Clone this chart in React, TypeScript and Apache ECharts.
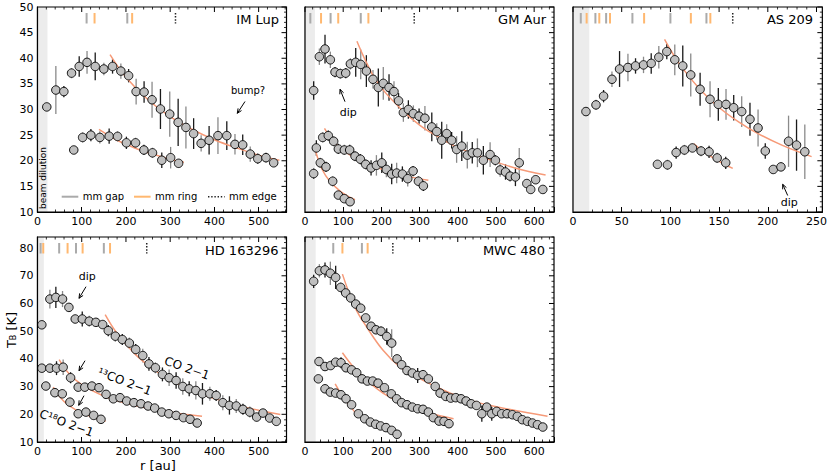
import React, { useEffect, useRef } from "react";
import * as echarts from "echarts";

const FONT = "'DejaVu Sans', sans-serif";

// ---------------- data: [r (au), T_B (K), error] ----------------
const imLupCO = [[21,30.5,0.5],[41.5,33.8,4.7],[59.6,33.5,1.1],[77,37.1,1.0],[94.3,38.4,2.0],[112,39.2,2.2],[130.5,38.4,2.7],[150,37.9,1.2],[169.7,38.4,1.4],[188.5,37.5,1.5],[206,36.6,1.3],[223,33.5,2.5],[241,33.4,2.1],[259,31.9,3.5],[278,30.1,3.9],[299,29.1,4.4],[318,27.5,4.6],[335.6,26.5,4.1],[353,25.3,3.0],[370,23.4,1.6],[388,24.0,2.8],[408,24.9,3.6],[428,24.9,2.8],[446.5,23.2,2.0],[464,23.1,2.0],[481,21.3,1.5],[498,20.4,1.0],[516.6,20.6,1.0],[534,19.6,0.5]];
const imLup13CO = [[82,22.1,0.5],[102,24.55,1.0],[120.7,25.0,1.2],[141,24.55,1.2],[162,24.8,1.5],[181,24.75,1.0],[201,23.5,1.2],[221.7,23.5,1.0],[240.6,22.1,1.0],[260,21.55,1.0],[281,20.1,1.5],[301,20.6,2.1],[319,19.5,0.8]];
const imLupCOFit = [[164,40.7],[200,36.3],[250,31.9],[300,28.6],[350,26.1],[400,24.1],[450,22.5],[500,21.1],[547,20.1]];
const imLup13COFit = [[139,26.1],[180,24.0],[220,22.5],[260,21.3],[300,20.3],[331,19.7]];
const imLupGaps = [111, 203];
const imLupRings = [129, 214];
const imLupEdges = [312];

const gmAurCO = [[22.7,33.7,1.8],[37.6,40.3,1.6],[52.4,41.8,2.8],[66.4,39.7,1.6],[78.6,37.3,1.0],[92.6,37.0,1.0],[106.6,37.1,1.0],[118.8,38.9,1.1],[132.8,39.2,2.8],[145.9,38.8,2.9],[160.7,37.5,3.1],[178,35.9,1.8],[192,34.3,3.7],[205,35.1,3.2],[220,34.3,2.6],[233,33.5,2.0],[245,31.7,1.5],[257.6,29.4,1.8],[270.7,30.0,1.8],[283.8,29.2,1.6],[298.7,28.7,1.5],[314,28.3,2.4],[332,26.6,2.8],[345,25.7,1.6],[358,24.0,3.6],[371,25.3,1.8],[384,24.0,1.6],[397,22.2,2.6],[410.5,22.85,2.9],[425,21.1,2.6],[438,21.55,2.1],[451.5,21.55,2.8],[467,20.1,2.8],[484.7,21.2,2.4],[498.6,20.1,1.0],[511,18.2,1.3],[525,17.8,1.5],[537,17.0,1.1],[551,16.85,1.8],[561,19.6,2.9],[580.8,15.55,0.3],[591,14.4,0.3],[604,16.3,0.3],[622.7,14.4,0.3]];
const gmAur13CO = [[29.7,22.5,1.5],[46.3,24.55,1.0],[61,24.9,1.0],[75,23.8,1.0],[87.3,22.3,1.0],[103,22.1,1.0],[117,22.1,1.0],[131,20.9,1.0],[145,20.3,1.0],[159,19.3,1.0],[173,18.6,1.5],[187,19.1,2.0],[201,19.6,2.0],[213,18.3,1.5],[227,17.4,2.0],[240,17.6,2.0],[255,17.4,1.5],[269,16.5,1.5],[283,18.0,1.0],[297,16.0,1.0],[310,15.1,1.0]];
const gmAurC18O = [[22.7,17.5,1.0],[40,19.6,1.0],[55,18.8,1.0],[72.5,16.0,1.0],[87.3,13.3,0.5],[103,12.6,0.4],[118,12.0,0.4]];
const gmAurCOFit = [[136,43.3],[160,39.3],[192,35.0],[250,30.2],[301,26.9],[350,24.6],[400,22.6],[476,20.4],[550,18.6],[630,17.2]];
const gmAur13COFit = [[51,26.3],[80,23.3],[120,21.0],[160,19.5],[200,18.4],[260,17.1],[323,16.2]];
const gmAurC18OFit = [[28,21.8],[45,18.3],[65,16.0],[90,14.2],[110,13.2],[131,12.4]];
const gmAurGaps = [14, 67, 146];
const gmAurRings = [42, 87, 166];
const gmAurEdges = [286];

const as209CO = [[13.3,29.6,0.5],[23.6,30.9,1.0],[31.4,32.6,1.2],[40,35.9,1.5],[47.8,37.9,3.5],[56.4,38.2,2.7],[64.2,38.5,1.5],[72.4,38.7,1.6],[80.3,39.0,2.0],[88.1,40.2,2.2],[96.3,41.3,1.5],[104.5,39.7,3.0],[112.7,38.5,4.0],[120.9,36.75,4.2],[130.5,33.95,3.2],[140.7,32.0,3.5],[149.2,31.0,3.2],[157.1,31.0,3.0],[165,30.35,2.5],[173.2,29.6,3.0],[181.7,28.1,3.2],[190,26.4,3.6],[197.4,21.9,1.5],[205.6,18.3,0.5],[213.5,18.8,0.8],[221.3,23.8,5.0],[229.5,23.05,5.0],[238,21.75,5.3]];
const as20913CO = [[86.7,19.3,0.5],[97,19.2,1.0],[105.9,21.6,1.2],[114.4,22.1,1.0],[122.6,22.5,0.8],[131.5,21.9,1.0],[139.7,21.75,1.2],[148,20.55,1.0],[156.8,19.6,1.2]];
const as209COFit = [[94,43.7],[110,38.7],[130,34.0],[150,30.4],[170,27.6],[190,25.3],[215,23.0],[245,20.8]];
const as20913COFit = [[124,23.3],[134,21.8],[144,20.55],[154,19.46],[164,18.5]];
const as209Gaps = [8, 23, 34, 61, 100, 137];
const as209Rings = [14, 27, 38, 73, 121, 141];
const as209Edges = [164];

const hdCO = [[9.8,52.3,0.8],[28,61.6,3.4],[41.5,62.2,3.8],[56.6,61.6,2.9],[71,58.6,1.5],[85.3,54.4,1.5],[101.2,54.4,2.7],[117,53.6,2.0],[132,53.2,1.5],[147.3,52.4,1.5],[160,50.2,2.0],[176,48.2,2.0],[191.8,47.0,2.0],[207.7,45.7,2.0],[222,43.4,2.0],[238,41.2,2.5],[252,38.2,2.5],[266.6,36.8,2.0],[282.5,34.4,2.5],[297.6,33.2,3.0],[313.4,32.2,3.0],[328.5,30.05,3.0],[343,29.2,2.7],[358,28.6,3.3],[373,27.4,3.9],[389.7,27.4,2.5],[404,26.8,2.0],[419,24.2,2.7],[434,23.2,3.3],[449.4,23.0,2.5],[464.5,21.8,2.0],[480,20.8,2.0],[495.5,19.0,1.5],[509.8,20.45,1.5],[525,18.65,1.0],[540,17.45,1.0]];
const hd13CO = [[9.8,36.65,0.8],[28,36.65,0.8],[43,36.65,2.5],[58,37.0,2.8],[74.8,33.2,2.0],[92,29.8,1.5],[107,29.8,1.5],[123,30.2,1.2],[139,29.6,1.2],[155,27.2,1.5],[171.5,25.6,1.2],[186.6,26.0,1.2],[201.7,24.8,1.0],[218,24.2,1.0],[234,23.8,1.0],[250,23.0,1.0],[265,22.25,1.0],[281,20.8,1.0],[297,20.2,1.0],[313.4,19.6,0.8],[330,18.8,0.8],[345,18.2,0.8],[361,16.85,0.8]];
const hdC18O = [[18.9,30.2,0.8],[39.3,27.8,1.0],[56,27.4,1.5],[73.3,24.4,1.0],[92,20.2,1.0],[109.5,20.8,1.0],[127,19.6,1.0],[143.5,18.2,1.0]];
const hdCOFit = [[153,56.0],[180,49.2],[220,41.8],[260,36.5],[300,32.4],[350,28.6],[400,25.7],[460,22.9],[549,19.9]];
const hd13COFit = [[49,39.7],[70,34.9],[100,30.7],[150,26.6],[200,24.0],[260,21.8],[320,20.3],[372,19.3]];
const hdC18OFit = [[35.5,29.8],[60,24.6],[90,21.3],[120,19.2],[154,17.5]];
const hdGaps = [7, 49, 87, 150];
const hdRings = [13, 68, 102, 164];
const hdEdges = [247];

const mwcCO = [[22.7,68.0,2.4],[37.6,71.8,2.4],[52.4,72.1,2.7],[66.4,70.9,4.2],[80.3,69.4,4.2],[93.4,65.8,1.8],[106.6,63.8,1.5],[119.7,62.0,1.0],[132.8,59.8,1.0],[145.9,58.3,1.0],[159,54.8,1.0],[173,51.8,1.0],[186,50.5,1.0],[199,50.0,1.8],[214,48.1,3.0],[227,45.7,5.0],[241,40.0,1.0],[253,37.9,0.8],[267,35.8,0.8],[281,34.9,1.0],[295,34.0,2.7],[309,34.3,1.0],[323,32.8,0.8],[341,30.05,1.0],[353.7,27.65,0.8],[368.6,26.45,0.8],[381.7,25.85,0.8],[394.8,26.0,0.8],[408.7,25.6,0.8],[421.8,24.8,0.8],[435,23.8,0.8],[449,23.2,0.8],[463,20.2,2.9],[476,22.6,1.0],[489,20.2,2.5],[502,21.05,0.8],[515,20.2,0.8],[529,20.2,0.8],[543,19.85,0.8],[556,19.25,0.8],[569,18.05,0.8],[582.5,17.45,0.8],[595.6,16.85,0.8],[608.7,16.25,0.8],[622.7,15.4,0.8]];
const mwc13CO = [[36.7,39.05,0.8],[52.4,37.25,0.8],[67.2,37.6,0.8],[80.3,38.8,1.0],[94.3,38.6,2.0],[107.4,36.8,0.8],[122,36.05,0.8],[135.4,35.0,0.8],[149.3,32.8,0.8],[163.3,32.0,0.8],[177.3,32.0,0.8],[191.3,31.25,0.8],[208,29.6,0.8],[226,27.4,0.8],[240,25.6,0.8],[253,24.2,0.8],[267,23.45,0.8],[281,22.6,0.8],[295,22.0,0.8],[309,21.8,0.8],[323,20.8,0.8],[336,18.8,0.8],[351,17.55,0.8],[364,17.45,0.8],[377,16.6,0.8]];
const mwcC18O = [[35,32.8,0.6],[52.4,29.2,0.6],[66.4,28.0,0.6],[80.3,27.65,0.6],[94.3,27.05,0.6],[107.4,25.6,0.6],[122,23.45,0.6],[139.7,20.2,0.6],[156.3,18.4,0.6],[171,17.2,0.6],[185,16.4,0.6],[198,15.8,0.6],[212,15.2,0.6],[227,14.2,0.6],[241,12.8,0.6]];
const mwcCOFit = [[98,70.6],[131,58.6],[162,51.4],[205,43.0],[249,37.0],[293,33.4],[336,30.4],[378,27.8],[428,25.2],[498,22.8],[635,19.3]];
const mwc13COFit = [[98,42.2],[130,36.5],[162,32.2],[214,26.8],[275,22.6],[330,20.3],[389,18.4]];
const mwcC18OFit = [[79,31.0],[100,26.2],[127,21.4],[140,19.0]];
const mwcGaps = [74, 149];
const mwcRings = [98, 164];
const mwcEdges = [230];

const panelNames = ["IM Lup", "GM Aur", "AS 209", "HD 163296", "MWC 480"];

const panels = [
  { name: panelNames[0], row: 0, col: 0, xmax: 563, xint: 100, band: 22.6, gaps: imLupGaps, rings: imLupRings, edges: imLupEdges, sets: [imLupCO, imLup13CO], fits: [imLupCOFit, imLup13COFit] },
  { name: panelNames[1], row: 0, col: 1, xmax: 652, xint: 100, band: 26, gaps: gmAurGaps, rings: gmAurRings, edges: gmAurEdges, sets: [gmAurCO, gmAur13CO, gmAurC18O], fits: [gmAurCOFit, gmAur13COFit, gmAurC18OFit] },
  { name: panelNames[2], row: 0, col: 2, xmax: 256, xint: 50, band: 16.7, gaps: as209Gaps, rings: as209Rings, edges: as209Edges, sets: [as209CO, as20913CO], fits: [as209COFit, as20913COFit] },
  { name: panelNames[3], row: 1, col: 0, xmax: 563, xint: 100, band: 14.3, gaps: hdGaps, rings: hdRings, edges: hdEdges, sets: [hdCO, hd13CO, hdC18O], fits: [hdCOFit, hd13COFit, hdC18OFit] },
  { name: panelNames[4], row: 1, col: 1, xmax: 652, xint: 100, band: 28, gaps: mwcGaps, rings: mwcRings, edges: mwcEdges, sets: [mwcCO, mwc13CO, mwcC18O], fits: [mwcCOFit, mwc13COFit, mwcC18OFit] },
];

const COLS = [37.5, 305, 573];
const WIDTHS = [249, 249, 250];
const ROWS = [7, 237];
const H = 205;
const YR = [
  { min: 10, max: 50, interval: 5 },
  { min: 10, max: 84, interval: 10 },
];
const TITLE_POS = [[279, 19], [546, 19], [813, 19], [278.5, 250], [545, 250]];

const FIT_COLOR = "#f69a78";
const GAP_COLOR = "#aaaaaa";
const RING_COLOR = "#ffb870";

function arrow(x1: number, y1: number, x2: number, y2: number) {
  const a = Math.atan2(y2 - y1, x2 - x1);
  const L = 5, phi = 0.42;
  return {
    type: "group",
    z: 100,
    children: [
      { type: "line", z: 100, shape: { x1, y1, x2, y2 }, style: { stroke: "#000", lineWidth: 1 } },
      {
        type: "polyline",
        z: 100,
        shape: {
          points: [
            [x2 - L * Math.cos(a - phi), y2 - L * Math.sin(a - phi)],
            [x2, y2],
            [x2 - L * Math.cos(a + phi), y2 - L * Math.sin(a + phi)],
          ],
        },
        style: { stroke: "#000", fill: null, lineWidth: 1 },
      },
    ],
  };
}

function txt(x: number, y: number, text: string, size: number, align = "center", rotation = 0, extra: any = {}) {
  return {
    type: "text",
    z: 100,
    x, y, rotation,
    style: { text, fill: "#000", font: `${size}px ${FONT}`, textAlign: align, textVerticalAlign: "middle", ...extra },
  };
}

function buildOption() {
  const grid: any[] = [], xAxis: any[] = [], yAxis: any[] = [], series: any[] = [];
  panels.forEach((p, i) => {
    const yr = YR[p.row];
    grid.push({ left: COLS[p.col], top: ROWS[p.row], width: WIDTHS[p.col], height: H });
    const tick = { show: true, inside: true, length: 5, lineStyle: { color: "#000", width: 1 } };
    const minor = { show: true, splitNumber: 5, length: 2.5, lineStyle: { color: "#000", width: 0.8 } };
    const aline = { show: true, onZero: false, lineStyle: { color: "#000", width: 1.2 } };
    const lab = (int: number, show: boolean) => ({
      show, fontSize: 11, color: "#000", fontFamily: FONT, margin: 4,
      formatter: (v: number) => (Math.abs(v / int - Math.round(v / int)) < 1e-6 ? String(v) : ""),
    });
    const common = { type: "value", gridIndex: i, axisLine: aline, axisTick: tick, minorTick: minor, splitLine: { show: false }, minorSplitLine: { show: false } };
    xAxis.push({ ...common, position: "bottom", min: 0, max: p.xmax, interval: p.xint, axisLabel: lab(p.xint, true) });
    xAxis.push({ type: "value", gridIndex: i, position: "top", show: false, min: 0, max: p.xmax, interval: p.xint });
    yAxis.push({ ...common, position: "left", min: yr.min, max: yr.max, interval: yr.interval, axisLabel: lab(yr.interval, p.col === 0) });
    yAxis.push({ type: "value", gridIndex: i, position: "right", show: false, min: yr.min, max: yr.max, interval: yr.interval });
    const ax = { xAxisIndex: 2 * i, yAxisIndex: 2 * i };

    // beam dilution band
    series.push({
      ...ax, type: "custom", z: 1, silent: true, data: [[0, p.band]],
      renderItem: (params: any, api: any) => {
        const cs = params.coordSys;
        const a = api.coord([api.value(0), yr.min]);
        const b = api.coord([api.value(1), yr.min]);
        return { type: "rect", shape: { x: a[0], y: cs.y, width: b[0] - a[0], height: cs.height }, style: { fill: "#ececec" } };
      },
    });

    // mm gap / ring / edge markers
    const marker = (vals: number[], color: string, dotted: boolean) => ({
      ...ax, type: "custom", z: 2, silent: true, data: vals.map((v) => [v, yr.max]),
      renderItem: (params: any, api: any) => {
        const cs = params.coordSys;
        const x = api.coord([api.value(0), yr.max])[0];
        return {
          type: "line",
          shape: { x1: x, y1: cs.y + 6, x2: x, y2: cs.y + 16.5 },
          style: { stroke: color, lineWidth: dotted ? 1.5 : 2, lineDash: dotted ? [1.5, 1.6] : null },
        };
      },
    });
    series.push(marker(p.gaps, GAP_COLOR, false));
    series.push(marker(p.rings, RING_COLOR, false));
    series.push(marker(p.edges, "#222", true));

    p.sets.forEach((set) => {
      series.push({
        ...ax, type: "custom", z: 3, silent: true, data: set,
        encode: { x: 0, y: 1 },
        renderItem: (params: any, api: any) => {
          const x = api.value(0), y = api.value(1), e = api.value(2);
          const a = api.coord([x, y - e]);
          const b = api.coord([x, y + e]);
          return {
            type: "line",
            shape: { x1: a[0], y1: a[1], x2: b[0], y2: b[1] },
            style: { stroke: params.dataIndex % 2 ? "#8a8a8a" : "#1a1a1a", lineWidth: 1.3 },
          };
        },
      });
    });
    p.fits.forEach((fit) => {
      series.push({
        ...ax, type: "line", z: 4, silent: true, data: fit, smooth: 0.4,
        symbol: "none", showSymbol: false,
        lineStyle: { color: FIT_COLOR, width: 1.5 },
      });
    });
    p.sets.forEach((set) => {
      series.push({
        ...ax, type: "scatter", z: 5, silent: true,
        data: set.map((d) => [d[0], d[1]]),
        symbol: "circle", symbolSize: 8.5,
        itemStyle: { color: "#bfbfbf", borderColor: "#000", borderWidth: 0.9, opacity: 1 },
      });
    });

    // frame with inward ticks on the top and right sides (mirrors bottom/left axes)
    series.push({
      ...ax, type: "custom", z: 6, silent: true, clip: false, data: [[0, yr.min]],
      renderItem: (params: any, api: any) => {
        const cs = params.coordSys;
        const children: any[] = [
          { type: "rect", shape: { x: cs.x, y: cs.y, width: cs.width, height: cs.height }, style: { fill: null, stroke: "#000", lineWidth: 1.2 } },
        ];
        const xs = p.xint / 5;
        for (let k = 0; k * xs <= p.xmax + 1e-6; k++) {
          const v = k * xs;
          const px = api.coord([v, yr.max])[0];
          const len = k % 5 === 0 ? 5 : 2.5;
          children.push({ type: "line", shape: { x1: px, y1: cs.y, x2: px, y2: cs.y + len }, style: { stroke: "#000", lineWidth: k % 5 === 0 ? 1 : 0.8 } });
        }
        const ys = yr.interval / 5;
        for (let k = 0; yr.min + k * ys <= yr.max + 1e-6; k++) {
          const v = yr.min + k * ys;
          const py = api.coord([0, v])[1];
          const len = k % 5 === 0 ? 5 : 2.5;
          children.push({ type: "line", shape: { x1: cs.x + cs.width, y1: py, x2: cs.x + cs.width - len, y2: py }, style: { stroke: "#000", lineWidth: k % 5 === 0 ? 1 : 0.8 } });
        }
        return { type: "group", children };
      },
    });
  });

  const graphic: any[] = [];
  panels.forEach((p, i) => {
    graphic.push(txt(TITLE_POS[i][0], TITLE_POS[i][1], p.name, 13, "right"));
  });
  // beam dilution label
  graphic.push(txt(42.7, 178, "beam dilution", 9, "center", Math.PI / 2));
  // legend (IM Lup panel)
  graphic.push({ type: "line", z: 100, shape: { x1: 61.7, y1: 196.7, x2: 78.3, y2: 196.7 }, style: { stroke: GAP_COLOR, lineWidth: 2 } });
  graphic.push(txt(82.7, 196.7, "mm gap", 10, "left"));
  graphic.push({ type: "line", z: 100, shape: { x1: 134, y1: 196.7, x2: 150.6, y2: 196.7 }, style: { stroke: RING_COLOR, lineWidth: 2 } });
  graphic.push(txt(155, 196.7, "mm ring", 10, "left"));
  graphic.push({ type: "line", z: 100, shape: { x1: 208, y1: 196.7, x2: 224.6, y2: 196.7 }, style: { stroke: "#222", lineWidth: 1.4, lineDash: [1.4, 1.8] } });
  graphic.push(txt(229, 196.7, "mm edge", 10, "left"));
  // annotations
  graphic.push(txt(248, 90, "bump?", 10));
  graphic.push(arrow(245, 101.5, 237.3, 113.3));
  graphic.push(txt(348.3, 112.7, "dip", 11));
  graphic.push(arrow(345, 101.7, 340, 89.3));
  graphic.push(txt(789.3, 202.3, "dip", 11));
  graphic.push(arrow(787.7, 195.5, 782.7, 184.3));
  graphic.push(txt(87.3, 276.7, "dip", 11));
  graphic.push(arrow(86, 286.7, 79, 298.3));
  graphic.push(arrow(85, 360.7, 79, 370.7));
  graphic.push(arrow(84, 395.7, 78.7, 405.3));
  graphic.push(txt(187, 368.3, "CO 2\u22121", 12, "center", -0.34));
  graphic.push(txt(124.7, 381.7, "\u00b9\u00b3CO 2\u22121", 12, "center", -0.36));
  graphic.push(txt(66.5, 423.3, "C\u00b9\u2078O 2\u22121", 12, "center", -0.36));
  // axis titles
  graphic.push({
    type: "text", z: 100, x: 11, y: 330, rotation: Math.PI / 2,
    style: {
      text: "{t|T}{s|B}{t| [K]}",
      textAlign: "center", textVerticalAlign: "middle",
      rich: {
        t: { fontSize: 13, fontFamily: FONT, fill: "#000" },
        s: { fontSize: 8, fontFamily: FONT, fill: "#000", verticalAlign: "bottom" },
      },
    },
  });
  graphic.push(txt(158, 465, "r [au]", 13));

  return { animation: false, backgroundColor: "#fff", grid, xAxis, yAxis, series, graphic };
}

export default function App() {
  const ref = useRef<HTMLDivElement>(null);
  useEffect(() => {
    if (!ref.current) return;
    const chart = echarts.init(ref.current, undefined, { renderer: "svg" });
    chart.setOption(buildOption() as any);
    return () => chart.dispose();
  }, []);
  return (
    <div
      ref={ref}
      style={{ position: "fixed", left: 0, top: 0, width: 830, height: 476, background: "#fff" }}
    />
  );
}
